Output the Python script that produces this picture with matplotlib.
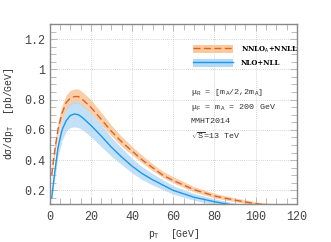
import matplotlib
matplotlib.use("Agg")
import matplotlib.pyplot as plt
from matplotlib.patches import Patch
from matplotlib.lines import Line2D
from matplotlib.ticker import MultipleLocator

# pT grid and curves
pt = [1, 2, 4, 6, 8, 10, 12, 14, 16, 20, 25, 30, 35, 40, 45, 50, 55, 60, 70, 80, 90, 100, 110]

nnlo = [.30, .42, .60, .71, .78, .81, .82, .82, .80, .75, .67, .59, .52, .46, .40, .35, .30, .265, .205, .163, .135, .112, .095]
nnlo_lo = [.27, .39, .56, .67, .73, .765, .775, .775, .755, .71, .635, .56, .49, .435, .38, .33, .285, .25, .19, .15, .125, .105, .09]
nnlo_hi = [.34, .46, .65, .76, .83, .86, .87, .87, .85, .80, .715, .63, .555, .49, .43, .375, .325, .29, .225, .18, .15, .125, .11]

nlo = [.15, .27, .48, .60, .66, .695, .705, .70, .68, .63, .56, .485, .42, .36, .31, .27, .235, .20, .155, .125, .10, .085, .072]
nlo_lo = [.13, .23, .42, .53, .59, .615, .62, .615, .60, .555, .49, .425, .37, .315, .27, .235, .205, .175, .135, .105, .085, .072, .062]
nlo_hi = [.17, .31, .54, .67, .74, .775, .79, .785, .765, .71, .635, .55, .48, .41, .355, .31, .27, .23, .18, .145, .115, .097, .082]

info = ["μ$_{\\rm R}$ = [m$_{\\rm A}$/2,2m$_{\\rm A}$]",
        "μ$_{\\rm F}$ = m$_{\\rm A}$ = 200 GeV",
        "MMHT2014",
        "$\\sqrt{\\rm S}$=13 TeV"]
info_y = [0.847, 0.749, 0.657, 0.559]

orange, orange_band = "#d8642c", "#fbc99b"
blue, blue_band = "#1a98ee", "#b3d9f7"

plt.rcParams["font.family"] = "Liberation Mono"
plt.rcParams["mathtext.fontset"] = "custom"
plt.rcParams["mathtext.rm"] = "Liberation Mono"

fig = plt.figure(figsize=(3.31, 2.42), dpi=100)
ax = fig.add_axes([0.150, 0.157, 0.747, 0.744])

ax.fill_between(pt, nnlo_lo, nnlo_hi, color=orange_band, lw=0, alpha=0.9)
ax.fill_between(pt, nlo_lo, nlo_hi, color=blue_band, lw=0, alpha=0.8)
ax.plot(pt, nnlo, color=orange, lw=1.0, dashes=(5, 2.5))
ax.plot(pt, nlo, color=blue, lw=1.0)

ax.set_xlim(0, 120)
ax.set_ylim(0.11, 1.3)
ax.xaxis.set_major_locator(MultipleLocator(20))
ax.xaxis.set_minor_locator(MultipleLocator(5))
ax.yaxis.set_minor_locator(MultipleLocator(0.05))
ax.set_yticks([0.2, 0.4, 0.6, 0.8, 1.0, 1.2])
ax.set_yticklabels(["0.2", "0.4", "0.6", "0.8", "1", "1.2"])

ax.grid(True, which="major", color="#c8c8c8", lw=0.6, ls=(0, (1, 1.5)))
ax.tick_params(which="both", direction="in", color="#b0b0b0", right=True, top=True,
               labelsize=8.5, labelcolor="#444444")
ax.tick_params(which="major", length=5, width=0.6)
ax.tick_params(which="minor", length=4, width=0.6)
ax.tick_params(axis="x", pad=5)
ax.tick_params(axis="y", pad=3)
for s in ax.spines.values():
    s.set_color("#888888")
    s.set_linewidth(1.0)

ax.set_xlabel("p$_{\\rm T}$  [GeV]", fontsize=7, color="#333333", labelpad=3)
ax.set_ylabel("dσ/dp$_{\\rm T}$  [pb/GeV]", fontsize=7, color="#333333", labelpad=6)

for t, y in zip(info, info_y):
    ax.text(68.6, y, t, fontsize=6, color="#333333", va="center", ha="left")

handles = [(Patch(color=orange_band, lw=0), Line2D([], [], color=orange, lw=1.0, dashes=(5, 2.5))),
           (Patch(color=blue_band, lw=0), Line2D([], [], color=blue, lw=1.0))]
labels = ["NNLO$_{\\rm A}$+NNLL", "NLO+NLL"]
ax.legend(handles, labels, loc="upper left", bbox_to_anchor=(0.555, 0.92), frameon=False,
          prop={"family": "DejaVu Serif", "weight": "bold", "size": 5},
          handlelength=5.8, handleheight=1.45, handletextpad=1.1, labelspacing=0.6)

fig.savefig("out.png", dpi=100)
